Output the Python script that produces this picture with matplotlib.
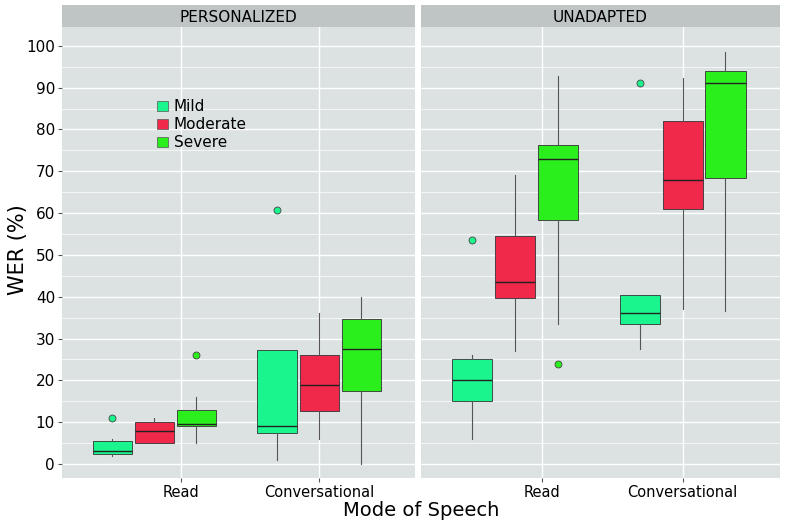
import matplotlib.pyplot as plt

panels = ["PERSONALIZED", "UNADAPTED"]
modes = ["Read", "Conversational"]
severity = ["Mild", "Moderate", "Severe"]
colors = {"Mild": "#1AF58E", "Moderate": "#F0284A", "Severe": "#2BEF1C"}

# (whislo, q1, med, q3, whishi, outliers) per panel -> mode -> severity
stats = {
    "PERSONALIZED": {
        "Read": [(2, 2.5, 3, 5.5, 6, [11]), (5, 5, 8, 10, 11, []), (5, 9, 9.5, 12.8, 16, [26])],
        "Conversational": [(1, 7.5, 9, 27.3, 27.3, [60.7]), (6, 12.7, 19, 26, 36, []),
                           (0, 17.5, 27.5, 34.7, 40, [])],
    },
    "UNADAPTED": {
        "Read": [(6, 15, 20, 25, 26, [53.5]), (27, 39.7, 43.5, 54.6, 69, []),
                 (33.5, 58.3, 73, 76.2, 92.7, [24])],
        "Conversational": [(27.5, 33.5, 36, 40.3, 40.3, [91]), (37, 61, 68, 82, 92.3, []),
                           (36.5, 68.5, 91, 94, 98.5, [])],
    },
}

fig = plt.figure(figsize=(7.87, 5.24), dpi=100)
W, H = 787, 524
bounds = [(62, 415), (421, 780)]
bottom, top = 478, 27
offset, width = 0.255, 0.24

for i, (panel, (x0, x1)) in enumerate(zip(panels, bounds)):
    ax = fig.add_axes([x0 / W, 1 - bottom / H, (x1 - x0) / W, (bottom - top) / H])
    ax.set_facecolor("#DCE2E2")
    ax.set_axisbelow(True)
    ax.set_yticks(range(0, 101, 10))
    ax.set_yticks(range(5, 101, 10), minor=True)
    ax.grid(True, which="major", color="white", lw=1.0)
    ax.grid(True, which="minor", color="white", lw=0.5)
    for g, mode in enumerate(modes):
        for k, sev in enumerate(severity):
            lo, q1, med, q3, hi, fl = stats[panel][mode][k]
            ax.bxp([dict(whislo=lo, q1=q1, med=med, q3=q3, whishi=hi, fliers=fl)],
                   positions=[g + 1 + (k - 1) * offset], widths=width,
                   patch_artist=True, manage_ticks=False,
                   boxprops=dict(facecolor=colors[sev], edgecolor="#333333", lw=0.6),
                   medianprops=dict(color="#222222", lw=1.0),
                   whiskerprops=dict(color="#555555", lw=0.8),
                   capprops=dict(visible=False),
                   flierprops=dict(marker="o", markerfacecolor=colors[sev],
                                   markeredgecolor="#444444", markersize=5, mew=0.6))
    ax.set_xlim(0.44, 2.58)
    ax.set_ylim(-3.35, 104.5)
    ax.set_xticks([1.16, 2.0])
    ax.set_xticklabels(modes, fontsize=10.5)
    ax.tick_params(axis="x", length=3, pad=2, color="#555555")
    ax.tick_params(which="minor", length=0)
    for s in ax.spines.values():
        s.set_visible(False)
    if i == 0:
        ax.tick_params(axis="y", labelsize=11, length=3, pad=2, color="#555555")
        handles = [plt.Rectangle((0, 0), 1, 1, facecolor=colors[s], edgecolor="#555555", lw=0.5)
                   for s in severity]
        ax.legend(handles, severity, loc="upper left", bbox_to_anchor=(0.23, 0.87),
                  frameon=False, fontsize=11, handlelength=0.7, handleheight=0.7,
                  labelspacing=0.2, handletextpad=0.4)
    else:
        ax.tick_params(axis="y", left=False, labelleft=False)
    # strip
    sax = fig.add_axes([x0 / W, 1 - top / H, (x1 - x0) / W, 22 / H])
    sax.set_facecolor("#BFC5C5")
    sax.set_xticks([]); sax.set_yticks([])
    for s in sax.spines.values():
        s.set_visible(False)
    sax.text(0.5, 0.45, panel, ha="center", va="center", fontsize=11, transform=sax.transAxes)

fig.text(18 / W, 1 - 250 / H, "WER (%)", rotation=90, ha="center", va="center", fontsize=15)
fig.text((62 + 780) / 2 / W, 0.008, "Mode of Speech", ha="center", va="bottom", fontsize=14)
fig.savefig("out.png", dpi=100)
